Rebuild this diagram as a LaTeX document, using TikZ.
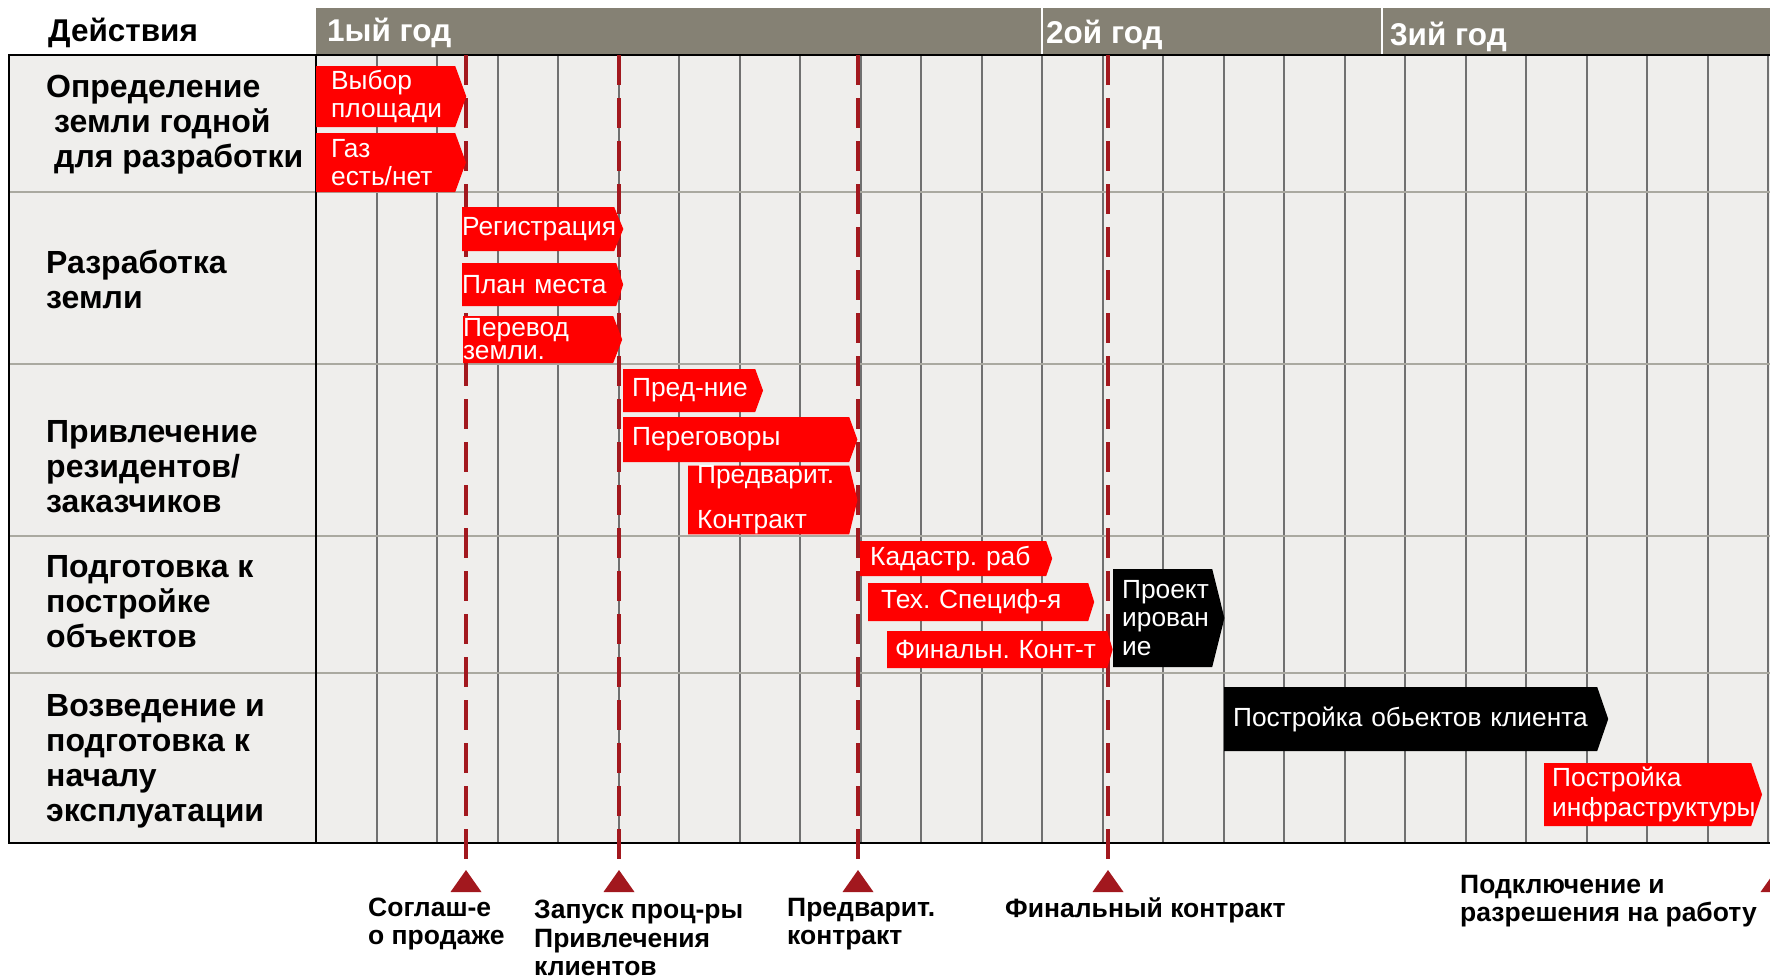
\documentclass[tikz,border=0pt]{standalone}
\usepackage{fontspec}
\setmainfont{Liberation Sans}
\usepackage{tikz}
\usepackage{xcolor}
\usetikzlibrary{shapes.symbols}
\definecolor{hdrgrey}{RGB}{133,129,116}
\definecolor{tablebg}{RGB}{239,238,236}
\definecolor{rowline}{RGB}{170,169,160}
\definecolor{colline}{RGB}{112,112,112}
\definecolor{msred}{RGB}{162,24,30}
\definecolor{barred}{RGB}{255,0,0}
\frenchspacing

\begin{document}
\begin{tikzpicture}[x=1pt, y=-1pt]
    % Define styles
    \tikzstyle{rowlabel} = [anchor=west, align=left, inner sep=0pt, font=\fontsize{32}{35}\selectfont\bfseries]
    \tikzstyle{yearlabel} = [anchor=west, inner sep=0pt, text=white, font=\fontsize{31.5}{34}\selectfont\bfseries]
    \tikzstyle{task} = [signal, signal to=east, signal pointer angle=140, anchor=west, align=left, inner ysep=0pt, inner xsep=9pt, fill=barred, text=white, font=\fontsize{26.3}{28.5}\selectfont, execute at begin node={\exhyphenpenalty=10000\hyphenpenalty=10000}]
    \tikzstyle{blacktask} = [task, fill=black]
    \tikzstyle{milestone} = [anchor=west, align=left, inner sep=0pt, font=\fontsize{26.5}{28.5}\selectfont\bfseries]
    \tikzstyle{mline} = [msred, line width=4.5pt, dash pattern=on 30pt off 13pt]
    \tikzstyle{gridline} = [colline, line width=2pt]
    \tikzstyle{border} = [black, line width=2.5pt]

    \useasboundingbox (0,0) rectangle (1770,978);

    % Header
    \fill[hdrgrey] (316,8) rectangle (1770,54);
    \draw[white, line width=2pt] (1042,8) -- (1042,54);
    \draw[white, line width=2pt] (1382,8) -- (1382,54);
    \node (actions) [anchor=west, inner sep=0pt, font=\fontsize{31.5}{34}\selectfont\bfseries] at (48,33) {Действия};
    \node (year1) [yearlabel] at (327,33) {1ый год};
    \node (year2) [yearlabel] at (1046,35) {2ой год};
    \node (year3) [yearlabel] at (1390,37) {3ий год};

    % Table
    \fill[tablebg] (9,55) rectangle (1770,843);
    \foreach \k in {1,...,24}
        \draw[gridline] ({316+60.5*\k},55) -- ({316+60.5*\k},843);
    \foreach \ry in {192,364,536,673}
        \draw[rowline, line width=2pt] (9,\ry) -- (1770,\ry);
    \draw[border] (316,55) -- (316,843);
    \draw[border] (1770,55) -- (9,55) -- (9,843) -- (1770,843);

    % Row labels
    \node (row_land) [rowlabel] at (46,125) {Определение\\\hspace*{8pt}земли годной\\\hspace*{8pt}для разработки};
    \node (row_dev) [rowlabel] at (46,279) {Разработка\\земли};
    \node (row_clients) [rowlabel] at (46,467) {Привлечение\\резидентов/\\заказчиков};
    \node (row_prep) [rowlabel] at (46,602) {Подготовка к\\постройке\\объектов};
    \node (row_build) [rowlabel] at (46,761) {Возведение и\\подготовка к\\началу\\эксплуатации};

    % Milestone lines
    \foreach \mx/\mname in {466/soglash, 619/zapusk, 858/predv, 1108/final}{
        \coordinate (\mname_top) at (\mx,55);
        \coordinate (\mname) at (\mx,870);
        \draw[mline] (\mname_top) -- (\mname);
    }
    \coordinate (podkl) at (1776,870);
    \foreach \mname in {soglash, zapusk, predv, final, podkl}
        \fill[msred] (\mname) -- ++(15.5,22) -- ++(-31,0) -- cycle;

    % Tasks
    \node (vybor) [task, inner xsep=15pt, text width=109pt, minimum height=61pt] at (316,96.5) {Выбор\\площади};
    \node (gaz) [task, inner xsep=15pt, text width=109pt, minimum height=59pt] at (316,162.5) {Газ\\есть/нет};
    \node (registr) [task, inner xsep=0pt, text width=152pt, minimum height=44pt, signal pointer angle=135] at (462,229) {\mbox{Регистрация}};
    \node (plan_mesta) [task, inner xsep=0pt, text width=154pt, minimum height=43pt, signal pointer angle=144] at (462,284.5) {\mbox{План места}};
    \node (perevod) [task, inner xsep=0pt, text width=150pt, minimum height=47pt, signal pointer angle=138, font=\fontsize{26.3}{23}\selectfont] at (463,339.5) {Перевод\\земли.};
    \node (pred_nie) [task, text width=114pt, minimum height=43pt] at (623,390.5) {\mbox{Пред-ние}};
    \node (peregovory) [task, text width=208pt, minimum height=45pt] at (623,439.5) {\mbox{Переговоры}};
    \node (predvarit) [task, text width=143pt, minimum height=66pt, signal pointer angle=153, font=\fontsize{26.3}{45}\selectfont] at (688,500) {Предварит.\\Контракт};
    \node (kadastr) [task, inner xsep=10pt, text width=166pt, minimum height=35pt, signal pointer angle=142] at (860,558.5) {\mbox{Кадастр. раб}};
    \node (tex_spec) [task, inner xsep=13pt, text width=194pt, minimum height=38pt, signal pointer angle=145] at (868,602) {\mbox{Тех. Специф-я}};
    \node (final_kont) [task, inner xsep=8pt, text width=204pt, minimum height=37pt, signal pointer angle=147] at (887,649.5) {\mbox{Финальн. Конт-т}};
    \node (proekt) [blacktask, text width=81pt, minimum height=98pt, signal pointer angle=152] at (1113,618) {Проект\\ирован\\ие};
    \node (postroika_obj) [blacktask, text width=355pt, minimum height=64pt, signal pointer angle=142] at (1224,719) {\mbox{Постройка обьектов клиента}};
    \node (postroika_infra) [task, inner xsep=8pt, text width=191pt, minimum height=63pt, signal pointer angle=142, font=\fontsize{26.3}{30}\selectfont] at (1544,794.5) {Постройка\\инфраструктуры};

    % Milestone labels
    \node (lbl_soglash) [milestone] at (368,924) {Соглаш-е\\о продаже};
    \node (lbl_zapusk) [milestone] at (534,938) {Запуск проц-ры\\Привлечения\\клиентов};
    \node (lbl_predv) [milestone] at (787,924) {Предварит.\\контракт};
    \node (lbl_final) [milestone] at (1005,910) {Финальный контракт};
    \node (lbl_podkl) [milestone] at (1460,901) {Подключение и\\разрешения на работу};
\end{tikzpicture}
\end{document}
